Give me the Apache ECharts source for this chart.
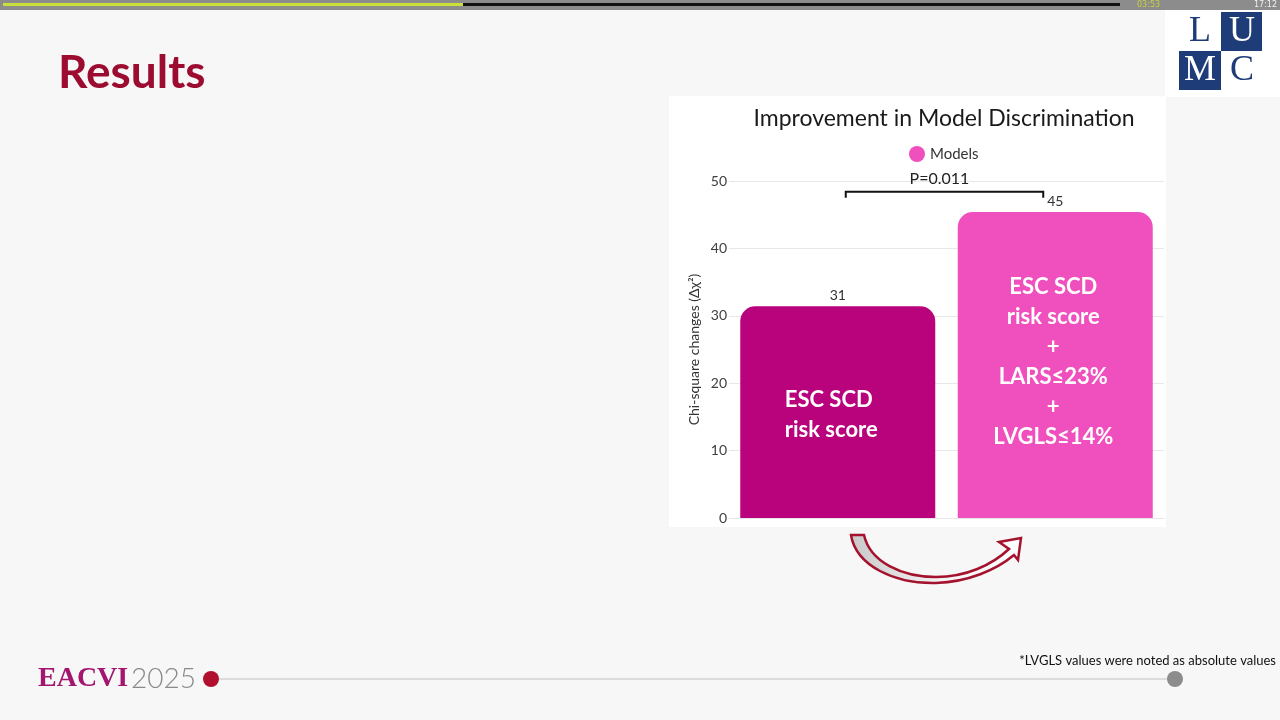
<!DOCTYPE html>
<html>
<head>
<meta charset="utf-8">
<script src="https://cdn.jsdelivr.net/npm/echarts@6/dist/echarts.min.js"></script>
<style>
  html, body { margin: 0; padding: 0; background: #F7F7F7; }
  #chart { width: 1280px; height: 720px; }
</style>
</head>
<body>
<div id="chart"></div>
<script>
// ---- data ----
const categories = ['ESC SCD risk score', 'ESC SCD risk score + LARS≤23% + LVGLS≤14%'];
const values = [31.4, 45.4];
const barTexts = ['ESC SCD\nrisk score', 'ESC SCD\nrisk score\n+\nLARS≤23%\n+\nLVGLS≤14%'];
const barColors = ['#B8037D', '#F04FBE'];
const seriesName = 'Models';
const yMin = 0, yMax = 50, yInterval = 10;
const pText = 'P=0.011';
const bracketEndValue = 47.5;
const bracketTopValue = 48.4;
const pLabelValue = 50.3;

const FONT = 'Lato, "Open Sans", sans-serif';
const chart = echarts.init(document.getElementById('chart'), null, { renderer: 'canvas' });

const option = {
  backgroundColor: '#F7F7F7',
  animation: false,
  title: {
    text: 'Improvement in Model Discrimination',
    left: 939,
    top: 102,
    textAlign: 'center',
    textStyle: { fontFamily: FONT, fontSize: 23, fontWeight: 'normal', color: '#1a1a1a' }
  },
  legend: {
    data: [seriesName],
    left: 904,
    top: 141,
    icon: 'circle',
    itemWidth: 16,
    itemHeight: 16,
    itemGap: 6,
    textStyle: { fontFamily: FONT, fontSize: 15, color: '#333' }
  },
  grid: { left: 729, right: 116, top: 181, bottom: 202, containLabel: false },
  xAxis: {
    type: 'category',
    data: categories,
    axisLine: { show: true, lineStyle: { color: '#E6E6E6' } },
    axisTick: { show: false },
    axisLabel: { show: false }
  },
  yAxis: {
    type: 'value',
    min: yMin, max: yMax, interval: yInterval,
    name: 'Chi-square changes (Δχ²)',
    nameLocation: 'middle',
    nameGap: 28,
    nameRotate: 90,
    nameTextStyle: { fontFamily: FONT, fontSize: 14, color: '#333' },
    axisLine: { show: false },
    axisTick: { show: false },
    axisLabel: { fontFamily: FONT, fontSize: 14, color: '#404040', margin: 2 },
    splitLine: { lineStyle: { color: '#E8E8E8', width: 1 } }
  },
  series: [
    {
      name: seriesName,
      type: 'bar',
      barWidth: 195,
      itemStyle: { color: barColors[1], borderRadius: [15, 15, 0, 0] },
      label: {
        show: true, position: 'top', distance: 4,
        fontFamily: FONT, fontSize: 14, color: '#333',
        formatter: p => String(Math.round(p.value))
      },
      data: values.map((v, i) => ({ value: v, itemStyle: { color: barColors[i] } }))
    },
    {
      name: 'text',
      type: 'bar',
      barWidth: 195,
      barGap: '-100%',
      silent: true,
      itemStyle: { color: 'rgba(0,0,0,0)' },
      label: {
        show: true, position: 'inside',
        fontFamily: FONT, fontSize: 22, fontWeight: 'bold', color: '#FFFFFF', lineHeight: 30,
        formatter: p => barTexts[p.dataIndex]
      },
      data: values.map((v, i) => i === 0
        ? { value: v, label: { align: 'left', offset: [-53, 3] } }
        : { value: v, label: { offset: [-2, -3] } })
    }
  ],
  graphic: []
};
chart.setOption(option);

// annotation positions derived from the axes
const c0 = chart.convertToPixel({ gridIndex: 0 }, [0, bracketEndValue]);
const c1 = chart.convertToPixel({ gridIndex: 0 }, [1, bracketEndValue]);
const yTop = chart.convertToPixel({ gridIndex: 0 }, [0, bracketTopValue])[1];
const yP = chart.convertToPixel({ gridIndex: 0 }, [0, pLabelValue])[1];
const bx0 = c0[0] + 8, bx1 = c1[0] - 12;

const arrowPath = 'M851,535 C856,566 895,584 936,583 C968,582 996,570 1014,555 ' +
  'L1018,560 L1021,538 L999,542 L1009,549 ' +
  'C992,565 966,577 936,577 C902,577 870,562 864,535 Z';

let arrowEl;
try {
  const ArrowShape = echarts.graphic.extendPath(arrowPath, {});
  echarts.graphic.registerShape('curvedArrow', ArrowShape);
  arrowEl = { type: 'curvedArrow', silent: true,
    style: { fill: new echarts.graphic.LinearGradient(0, 0, 1, 0, [{ offset: 0, color: '#C8C8C8' }, { offset: 0.5, color: '#F2F2F2' }, { offset: 1, color: '#FFFFFF' }]), stroke: '#A5122E', lineWidth: 2.5 } };
} catch (e) {
  arrowEl = { type: 'group', children: [] };
}

chart.setOption({
  graphic: [
    // white chart panel
    { type: 'rect', z: -10, silent: true, shape: { x: 669, y: 96, width: 497, height: 431 }, style: { fill: '#FFFFFF' } },
    // top player bar
    { type: 'rect', z: 10, silent: true, shape: { x: 0, y: 0, width: 1280, height: 10 }, style: { fill: '#8C8C8C' } },
    { type: 'line', z: 11, silent: true, shape: { x1: 3, y1: 4.5, x2: 463, y2: 4.5 }, style: { stroke: '#C9E03A', lineWidth: 3 } },
    { type: 'line', z: 11, silent: true, shape: { x1: 463, y1: 4.5, x2: 1120, y2: 4.5 }, style: { stroke: '#111111', lineWidth: 3 } },
    { type: 'text', z: 11, silent: true, style: { x: 1137, y: 5, text: '03:53', fill: '#C8D23C', font: '8px "DejaVu Sans"', verticalAlign: 'middle' } },
    { type: 'text', z: 11, silent: true, style: { x: 1277, y: 5, text: '17:12', fill: '#F0F0F0', font: '8px "DejaVu Sans"', align: 'right', verticalAlign: 'middle' } },
    // LUMC logo
    { type: 'rect', z: 5, silent: true, shape: { x: 1165, y: 10, width: 115, height: 87 }, style: { fill: '#FFFFFF' } },
    { type: 'rect', z: 6, silent: true, shape: { x: 1221, y: 12, width: 41, height: 39 }, style: { fill: '#1E3C78' } },
    { type: 'rect', z: 6, silent: true, shape: { x: 1179, y: 51, width: 42, height: 39 }, style: { fill: '#1E3C78' } },
    { type: 'text', z: 7, silent: true, style: { x: 1200, y: 32, text: 'L', fill: '#1E3C78', font: '36px "Liberation Serif"', align: 'center', verticalAlign: 'middle' } },
    { type: 'text', z: 7, silent: true, style: { x: 1242, y: 32, text: 'U', fill: '#FFFFFF', font: '36px "Liberation Serif"', align: 'center', verticalAlign: 'middle' } },
    { type: 'text', z: 7, silent: true, style: { x: 1200, y: 71, text: 'M', fill: '#FFFFFF', font: '36px "Liberation Serif"', align: 'center', verticalAlign: 'middle' } },
    { type: 'text', z: 7, silent: true, style: { x: 1242, y: 71, text: 'C', fill: '#1E3C78', font: '36px "Liberation Serif"', align: 'center', verticalAlign: 'middle' } },
    // slide title
    { type: 'text', silent: true, style: { x: 58, y: 73, text: 'Results', fill: '#9C0C30', font: 'bold 46px Lato', verticalAlign: 'middle' } },
    // significance bracket
    { type: 'polyline', z: 5, silent: true, shape: { points: [[bx0, c0[1]], [bx0, yTop], [bx1, yTop], [bx1, c1[1]]] }, style: { stroke: '#111', lineWidth: 2, fill: null } },
    { type: 'text', z: 5, silent: true, style: { x: (bx0 + bx1) / 2 - 5, y: yP, text: pText, fill: '#222', font: '16px Lato', align: 'center', verticalAlign: 'middle' } },
    // curved arrow
    arrowEl,
    // footer
    { type: 'text', silent: true, style: { x: 38, y: 679, text: 'EACVI', fill: '#A3156F', font: 'bold 28px "Liberation Serif"', verticalAlign: 'middle' } },
    { type: 'text', silent: true, style: { x: 131, y: 679, text: '2025', fill: '#8A8A8A', font: '300 28px Lato', verticalAlign: 'middle' } },
    { type: 'line', silent: true, shape: { x1: 219, y1: 679, x2: 1170, y2: 679 }, style: { stroke: '#DCDCDC', lineWidth: 2 } },
    { type: 'circle', silent: true, shape: { cx: 211, cy: 679, r: 8 }, style: { fill: '#B0102E' } },
    { type: 'circle', silent: true, shape: { cx: 1175, cy: 679, r: 8 }, style: { fill: '#8C8C8C' } },
    { type: 'text', silent: true, style: { x: 1276, y: 661, text: '*LVGLS values were noted as absolute values', fill: '#111', font: '13px Lato', align: 'right', verticalAlign: 'middle' } }
  ]
});
</script>
</body>
</html>
